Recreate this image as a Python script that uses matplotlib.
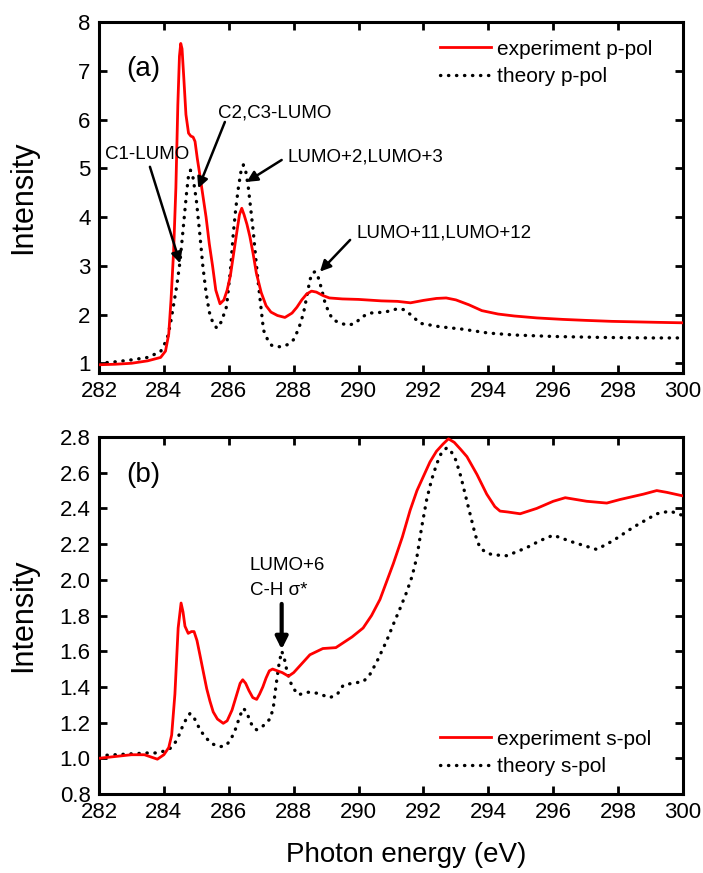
import matplotlib
matplotlib.use("Agg")

import numpy as np
import matplotlib.pyplot as plt

plt.rcParams["font.family"] = ["Liberation Sans", "DejaVu Sans"]

# ---- panel (a): p-polarisation ----
exp_p_x = [282.0, 282.5, 283.0, 283.5, 283.9, 284.05, 284.15, 284.22, 284.3, 284.37,
           284.43, 284.48, 284.52, 284.56, 284.61, 284.68, 284.76, 284.83, 284.9, 284.96,
           285.03, 285.1, 285.2, 285.3, 285.4, 285.5, 285.6, 285.73, 285.85, 285.95,
           286.05, 286.15, 286.25, 286.33, 286.4, 286.47, 286.56, 286.65, 286.75, 286.85,
           287.0, 287.15, 287.3, 287.5, 287.73, 287.95, 288.1, 288.25, 288.4, 288.55,
           288.7, 288.9, 289.1, 289.5, 290.0, 290.7, 291.2, 291.6, 292.0, 292.4,
           292.7, 293.0, 293.4, 293.8, 294.3, 294.8, 295.5, 296.3, 297.0, 297.8,
           298.5, 299.2, 300.0]
exp_p_y = [0.97, 0.98, 1.0, 1.05, 1.12, 1.25, 1.6, 2.3, 3.3, 4.6,
           6.3, 7.3, 7.56, 7.45, 6.9, 6.1, 5.72, 5.66, 5.64, 5.55,
           5.2, 4.9, 4.45, 4.0, 3.45, 3.0, 2.5, 2.22, 2.3, 2.5,
           2.8, 3.25, 3.7, 4.05, 4.18, 4.05, 3.85, 3.6, 3.25, 2.85,
           2.45, 2.18, 2.05, 1.98, 1.94, 2.03, 2.15, 2.3, 2.42, 2.48,
           2.46, 2.39, 2.34, 2.32, 2.31, 2.28, 2.27, 2.24, 2.29, 2.33,
           2.34, 2.3, 2.2, 2.08, 2.01, 1.97, 1.93, 1.9, 1.88, 1.86,
           1.85, 1.84, 1.83]

th_p_x = [282.0, 282.5, 283.0, 283.5, 283.9, 284.1, 284.2, 284.3, 284.4, 284.5,
          284.6, 284.7, 284.76, 284.82, 284.9, 285.0, 285.1, 285.2, 285.3, 285.4,
          285.5, 285.63, 285.77, 285.93, 286.05, 286.14, 286.22, 286.3, 286.38, 286.45,
          286.52, 286.6, 286.68, 286.76, 286.84, 286.91, 287.0, 287.07, 287.2, 287.32,
          287.45, 287.63, 287.8, 287.99, 288.15, 288.3, 288.4, 288.5, 288.58, 288.66,
          288.74, 288.85, 288.97, 289.1, 289.22, 289.45, 289.68, 289.9, 290.1, 290.35,
          290.6, 290.8, 291.0, 291.2, 291.4, 291.6, 291.9, 292.5, 293.2, 294.0,
          294.8, 296.0, 297.5, 299.0, 300.0]
th_p_y = [1.0, 1.03, 1.07, 1.12, 1.24, 1.5, 1.8, 2.2, 2.6, 3.1,
          3.8, 4.5, 4.85, 4.96, 4.8, 4.35, 3.7, 3.0, 2.45, 2.05,
          1.85, 1.72, 1.85, 2.16, 2.9, 3.67, 4.2, 4.62, 4.95, 5.07,
          4.95, 4.62, 4.15, 3.67, 3.1, 2.64, 2.1, 1.68, 1.48, 1.37,
          1.34, 1.34, 1.38, 1.48, 1.7, 2.02, 2.35, 2.71, 2.85, 2.88,
          2.8, 2.55, 2.23, 2.02, 1.89, 1.82, 1.78, 1.82, 1.95, 2.03,
          2.04, 2.05, 2.08, 2.12, 2.1, 2.0, 1.82, 1.75, 1.7, 1.62,
          1.58, 1.55, 1.53, 1.52, 1.52]

# ---- panel (b): s-polarisation ----
exp_s_x = [282.0, 282.5, 283.0, 283.4, 283.8, 284.0, 284.15, 284.24, 284.34, 284.44,
           284.53, 284.59, 284.65, 284.75, 284.85, 284.93, 285.02, 285.11, 285.22, 285.32,
           285.42, 285.52, 285.65, 285.83, 285.95, 286.1, 286.25, 286.35, 286.43, 286.52,
           286.62, 286.74, 286.86, 286.95, 287.05, 287.15, 287.25, 287.35, 287.5, 287.65,
           287.84, 288.0, 288.2, 288.5, 288.9, 289.3, 289.8, 290.14, 290.4, 290.66,
           291.07, 291.35, 291.59, 291.8, 292.0, 292.2, 292.4, 292.6, 292.77, 292.95,
           293.15, 293.34, 293.65, 293.95, 294.2, 294.36, 294.6, 294.98, 295.49, 296.0,
           296.37, 297.03, 297.65, 298.06, 298.78, 299.19, 299.5, 300.0]
exp_s_y = [1.0, 1.01, 1.02, 1.02, 0.995, 1.02, 1.06, 1.13, 1.36, 1.73,
           1.87, 1.82, 1.74, 1.70, 1.71, 1.71, 1.66, 1.58, 1.48, 1.39,
           1.32, 1.26, 1.22, 1.196, 1.21, 1.27, 1.36, 1.42, 1.44, 1.42,
           1.38, 1.34, 1.33, 1.36, 1.40, 1.45, 1.49, 1.50, 1.49, 1.48,
           1.46, 1.48, 1.52, 1.58, 1.615, 1.62, 1.68, 1.73, 1.8, 1.89,
           2.09, 2.24, 2.39, 2.5, 2.58, 2.66, 2.72, 2.76, 2.79, 2.77,
           2.73, 2.69, 2.59, 2.48, 2.41, 2.385, 2.38, 2.37, 2.40, 2.44,
           2.46, 2.44, 2.43, 2.45, 2.48, 2.50, 2.49, 2.47]

th_s_x = [282.0, 282.5, 283.0, 283.5, 283.78, 284.0, 284.19, 284.4, 284.6, 284.72,
          284.8, 284.9, 285.0, 285.15, 285.32, 285.5, 285.73, 285.9, 286.05, 286.2,
          286.35, 286.45, 286.55, 286.65, 286.76, 286.86, 286.96, 287.05, 287.15, 287.27,
          287.37, 287.45, 287.55, 287.63, 287.7, 287.78, 287.89, 288.0, 288.14, 288.45,
          288.71, 289.12, 289.35, 289.53, 289.8, 290.15, 290.35, 290.56, 290.87, 291.07,
          291.28, 291.48, 291.65, 291.8, 291.95, 292.1, 292.25, 292.41, 292.55, 292.72,
          292.85, 293.0, 293.15, 293.38, 293.6, 293.74, 293.95, 294.15, 294.57, 295.18,
          295.6, 296.0, 296.62, 297.34, 297.85, 298.47, 299.19, 299.6, 300.0]
th_s_y = [1.015, 1.02, 1.025, 1.03, 1.03, 1.04, 1.055, 1.1, 1.19, 1.23,
          1.25, 1.24, 1.2, 1.15, 1.11, 1.08, 1.065, 1.07, 1.1, 1.16,
          1.24, 1.28, 1.26, 1.21, 1.17, 1.16, 1.17, 1.18, 1.2, 1.22,
          1.28, 1.4, 1.53, 1.60, 1.57, 1.5, 1.43, 1.39, 1.356, 1.37,
          1.365, 1.34, 1.36, 1.41, 1.42, 1.43, 1.47, 1.54, 1.66, 1.75,
          1.84, 1.93, 2.02, 2.13, 2.3, 2.45, 2.56, 2.65, 2.71, 2.74,
          2.72, 2.67, 2.58, 2.41, 2.25, 2.18, 2.15, 2.14, 2.135, 2.18,
          2.22, 2.25, 2.21, 2.17, 2.22, 2.295, 2.37, 2.385, 2.36]

x_ticks = np.arange(282, 301, 2)
ticks_a = np.arange(1, 9, 1)
ticks_b = np.arange(0.8, 2.81, 0.2)

RED = "#ff0000"
DOTS = (0, (0.1, 2.3))

fig = plt.figure(figsize=(7.03, 8.73), dpi=100)
ax1 = fig.add_axes([0.1408, 0.5727, 0.8308, 0.4021])
ax2 = fig.add_axes([0.1408, 0.0905, 0.8308, 0.4089])


def style(ax):
    for sp in ax.spines.values():
        sp.set_linewidth(2.2)
    ax.tick_params(direction="in", length=6, width=2, top=True, right=True,
                   labelsize=16, pad=6)
    ax.set_xlim(282, 300)
    ax.set_xticks(x_ticks)
    ax.set_ylabel("Intensity", fontsize=22)
    ax.yaxis.set_label_coords(-0.105, 0.5)


def arrow(ax, tail, head, lw=1.8, ms=16):
    ax.annotate("", xy=head, xytext=tail,
                arrowprops=dict(arrowstyle="-|>", color="black", lw=lw,
                                mutation_scale=ms, shrinkA=0, shrinkB=0))


# ── (a) ──
ax1.plot(exp_p_x, exp_p_y, color=RED, lw=2, label="experiment p-pol", zorder=3)
ax1.plot(th_p_x, th_p_y, color="black", lw=2.4, linestyle=DOTS,
         dash_capstyle="round", label="theory p-pol", zorder=2)
style(ax1)
ax1.set_ylim(0.8, 8)
ax1.set_yticks(ticks_a)
ax1.text(283.36, 7.04, "(a)", fontsize=20, ha="center", va="center")

ax1.text(282.18, 5.29, "C1-LUMO", fontsize=13.5, va="center")
arrow(ax1, (283.57, 5.03), (284.5, 3.05))
ax1.text(285.67, 6.13, "C2,C3-LUMO", fontsize=13.5, va="center")
arrow(ax1, (285.88, 5.95), (285.06, 4.59))
ax1.text(287.82, 5.24, "LUMO+2,LUMO+3", fontsize=13.5, va="center")
arrow(ax1, (287.63, 5.17), (286.55, 4.72))
ax1.text(289.94, 3.68, "LUMO+11,LUMO+12", fontsize=13.5, va="center")
arrow(ax1, (289.74, 3.53), (288.81, 2.88))

ax1.legend(loc="upper left", bbox_to_anchor=(0.584, 0.95), frameon=False,
           fontsize=15, handlelength=2.45, handletextpad=0.3, labelspacing=0.4,
           borderpad=0, borderaxespad=0)

# ── (b) ──
ax2.plot(exp_s_x, exp_s_y, color=RED, lw=2, label="experiment s-pol", zorder=3)
ax2.plot(th_s_x, th_s_y, color="black", lw=2.4, linestyle=DOTS,
         dash_capstyle="round", label="theory s-pol", zorder=2)
style(ax2)
ax2.set_ylim(0.8, 2.8)
ax2.set_yticks(ticks_b)
ax2.set_yticklabels([f"{v:.1f}" for v in ticks_b])
ax2.text(283.36, 2.586, "(b)", fontsize=20, ha="center", va="center")

ax2.text(286.65, 2.08, "LUMO+6", fontsize=13.5, va="center")
ax2.text(286.65, 1.94, "C-H σ*", fontsize=13.5, va="center")
arrow(ax2, (287.63, 1.865), (287.63, 1.61), lw=3, ms=18)

ax2.legend(loc="upper left", bbox_to_anchor=(0.584, 0.18), frameon=False,
           fontsize=15, handlelength=2.45, handletextpad=0.3, labelspacing=0.4,
           borderpad=0, borderaxespad=0)

ax2.set_xlabel("Photon energy (eV)", fontsize=20)
ax2.xaxis.set_label_coords(0.526, -0.135)

fig.savefig("out.png", dpi=100, facecolor="white")
plt.close(fig)
